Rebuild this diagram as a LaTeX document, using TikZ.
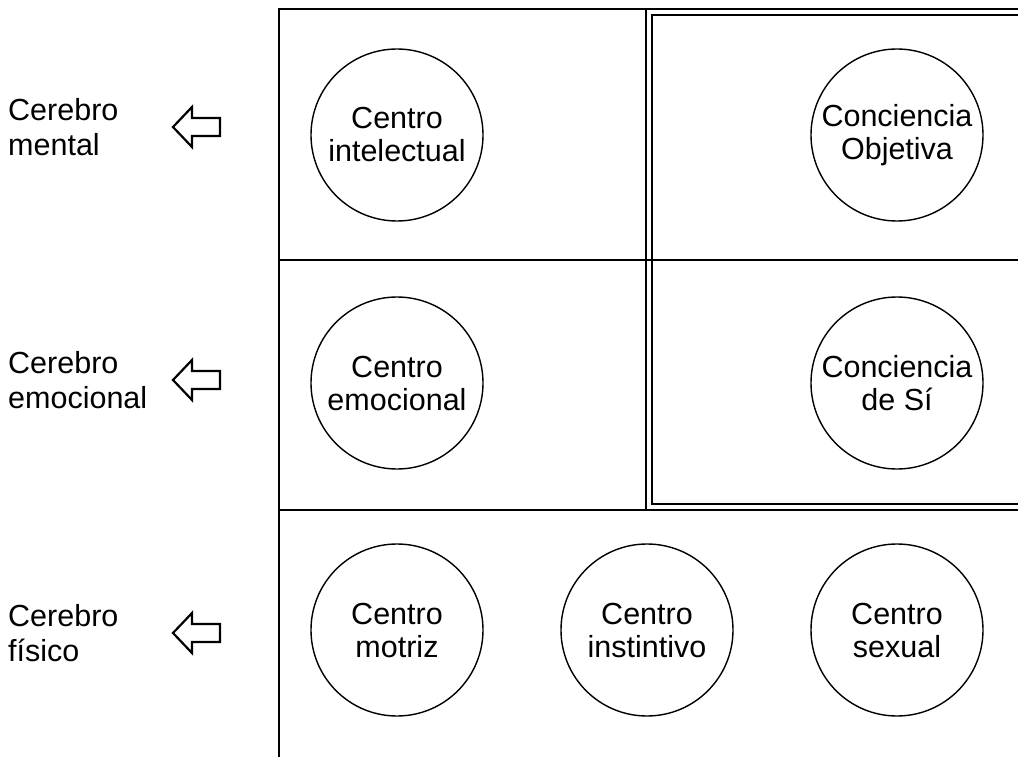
\documentclass[tikz,border=0pt]{standalone}
\usepackage{fontspec}
\setmainfont{Liberation Sans}
\usetikzlibrary{positioning, calc}
\tikzset{
    centro/.style={
        circle,
        draw=black,
        line width=1.4pt,
        minimum size=172pt,
        inner sep=0pt,
        align=center,
        font=\fontsize{30.5}{33}\selectfont
    },
    cerebro/.style={
        anchor=west,
        inner sep=0pt,
        align=left,
        font=\fontsize{30.5}{35}\selectfont
    },
    frame/.style={
        draw=black,
        line width=2.2pt
    },
    thinframe/.style={
        draw=black,
        line width=1.8pt
    },
    hollowarrow/.pic={
        \draw[line width=2.2pt, line join=miter]
            (0,0) -- (19,-20) -- (19,-9) -- (47,-9) -- (47,9) -- (19,9) -- (19,20) -- cycle;
    }
}

\begin{document}
\begin{tikzpicture}[x=1pt, y=-1pt]
\useasboundingbox (0,0) rectangle (1018,757);

% Grid
\coordinate (tl) at (279,9);
\coordinate (bl) at (279,757);
\coordinate (tr) at (1018,9);
\draw[frame] (bl) -- (tl) -- (tr);
\draw[frame] (279,260) -- (1018,260);
\draw[frame] (279,510) -- (1018,510);
\draw[frame] (646,9) -- (646,510);
\draw[thinframe] (1020,15) -- (652,15) -- (652,504) -- (1020,504);

% Centers
\node[centro] (intel) at (397,135) {Centro\\intelectual};
\node[centro] (objetiva) at (897,135) {Conciencia\\Objetiva};
\node[centro] (emoc) at (397,383) {Centro\\emocional};
\node[centro] (desi) at (897,383) {Conciencia\\de Sí};
\node[centro] (motriz) at (397,630) {Centro\\motriz};
\node[centro] (instin) at (647,630) {Centro\\instintivo};
\node[centro] (sexual) at (897,630) {Centro\\sexual};

% Brains
\node[cerebro] (mental) at (8,127) {Cerebro\\mental};
\node[cerebro] (emocional) at (8,380) {Cerebro\\emocional};
\node[cerebro] (fisico) at (8,633) {Cerebro\\físico};

\pic at (173,127) {hollowarrow};
\pic at (173,380) {hollowarrow};
\pic at (173,633) {hollowarrow};

\end{tikzpicture}
\end{document}
